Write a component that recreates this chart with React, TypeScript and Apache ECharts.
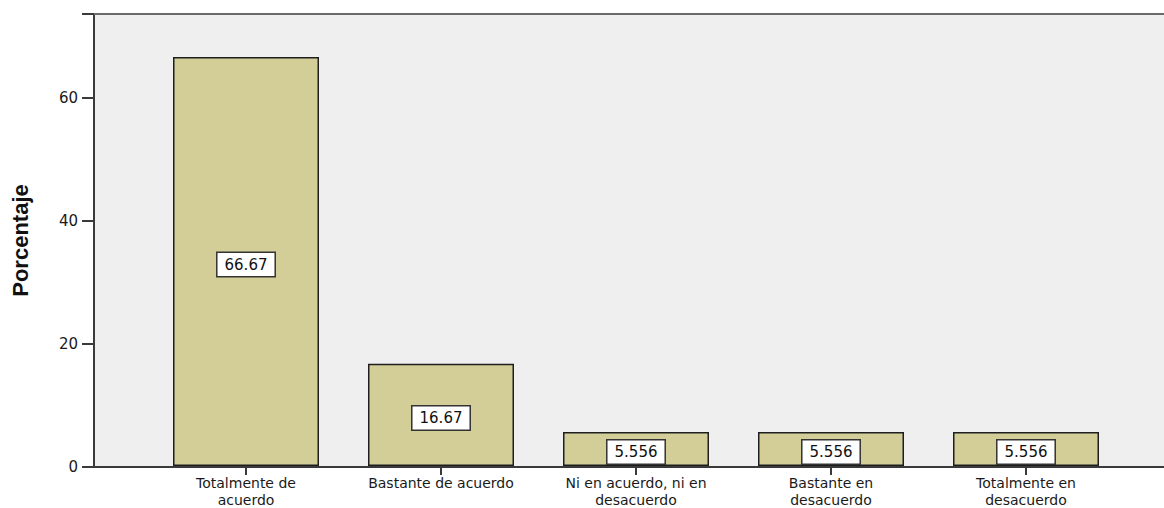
import React, { useEffect, useRef } from "react";
import * as echarts from "echarts";

const categories = [
  "Totalmente de\nacuerdo",
  "Bastante de acuerdo",
  "Ni en acuerdo, ni en\ndesacuerdo",
  "Bastante en\ndesacuerdo",
  "Totalmente en\ndesacuerdo",
];
const values = [66.67, 16.67, 5.556, 5.556, 5.556];
const valueLabels = ["66.67", "16.67", "5.556", "5.556", "5.556"];
const yTicks = [0, 20, 40, 60];
const yMax = 73.7;

const FONT = "'DejaVu Sans', sans-serif";

export default function App() {
  const ref = useRef<HTMLDivElement>(null);
  useEffect(() => {
    if (!ref.current) return;
    const chart = echarts.init(ref.current, undefined, { renderer: "svg" });
    chart.setOption({
      animation: false,
      backgroundColor: "#ffffff",
      textStyle: { fontFamily: FONT },
      grid: [
        { left: 94, right: 0, top: 14, bottom: 41, show: true, backgroundColor: "#efefef", borderWidth: 0 },
        { left: 148.5, right: 40.5, top: 14, bottom: 41 },
      ],
      xAxis: [
        {
          gridIndex: 0, type: "value", min: 0, max: 1, position: "bottom",
          axisLine: { show: true, lineStyle: { color: "#3a3a3a", width: 2 } },
          axisTick: { show: false }, axisLabel: { show: false }, splitLine: { show: false },
        },
        {
          gridIndex: 0, type: "value", min: 0, max: 1, position: "top",
          axisLine: { show: true, lineStyle: { color: "#6a6a6a", width: 2 } },
          axisTick: { show: false }, axisLabel: { show: false }, splitLine: { show: false },
        },
        {
          gridIndex: 1, type: "category", data: categories,
          axisLine: { show: false },
          axisTick: { show: true, alignWithLabel: true, length: 9, lineStyle: { color: "#3a3a3a", width: 2 } },
          axisLabel: { color: "#1a1a1a", fontSize: 14, lineHeight: 17, margin: 8, fontFamily: FONT, interval: 0 },
        },
      ],
      yAxis: [
        {
          gridIndex: 0, type: "value", min: 0, max: yMax, interval: 20,
          axisLine: { show: true, lineStyle: { color: "#3a3a3a", width: 2 } },
          axisTick: { show: true, length: 12, lineStyle: { color: "#3a3a3a", width: 2 } },
          axisLabel: {
            color: "#1a1a1a", fontSize: 15, margin: 16, fontFamily: FONT,
            formatter: (v: number) => (yTicks.includes(v) ? String(v) : ""),
          },
          splitLine: { show: false },
          name: "Porcentaje", nameLocation: "middle", nameGap: 63,
          nameTextStyle: { fontSize: 22, fontWeight: "bold", color: "#111", fontFamily: "'Liberation Sans Narrow', 'Liberation Sans', sans-serif" },
        },
        { gridIndex: 1, type: "value", min: 0, max: yMax, show: false },
      ],
      series: [
        {
          type: "bar",
          xAxisIndex: 2,
          yAxisIndex: 1,
          data: values,
          barWidth: 146,
          itemStyle: { color: "#d3ce98", borderColor: "#1e1e1e", borderWidth: 1.5 },
          label: {
            show: true,
            position: "inside",
            offset: [0, 3],
            formatter: (p: any) => valueLabels[p.dataIndex],
            color: "#111",
            fontSize: 15,
            fontFamily: FONT,
            backgroundColor: "#ffffff",
            borderColor: "#333",
            borderWidth: 1.5,
            padding: [5, 7, 3, 7],
          },
        },
      ],
    });
    return () => chart.dispose();
  }, []);
  return (
    <div
      ref={ref}
      style={{ position: "fixed", left: 0, top: 0, width: 1164, height: 508 }}
    />
  );
}
